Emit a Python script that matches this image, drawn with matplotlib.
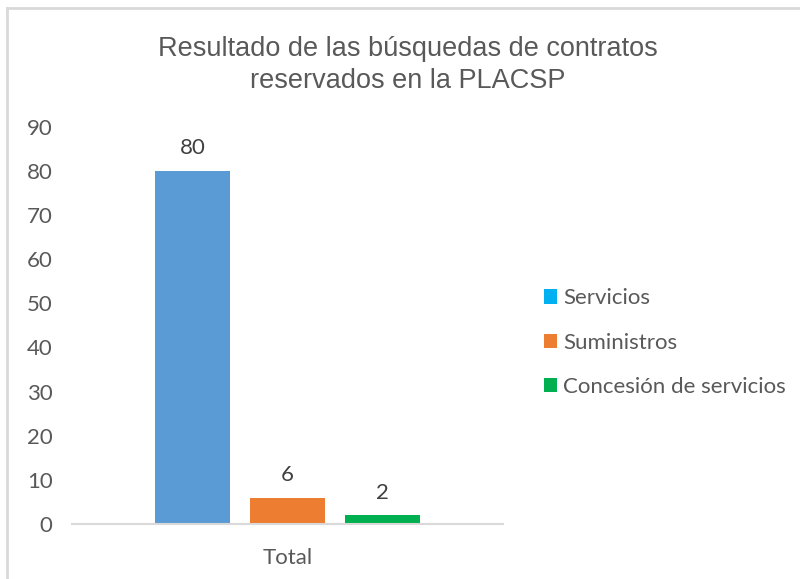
import matplotlib
matplotlib.use("Agg")
import matplotlib.pyplot as plt
from matplotlib.patches import Patch
from matplotlib.lines import Line2D

# Data
category = ["Total"]
series_names = ["Servicios", "Suministros", "Concesión de servicios"]
series_values = [80, 6, 2]
bar_colors = ["#5B9BD5", "#ED7D31", "#00B050"]
legend_colors = ["#00B0F0", "#ED7D31", "#00B050"]
yticks = list(range(0, 91, 10))

text_color = "#595959"
tick_font = ["Lato", "DejaVu Sans"]

fig = plt.figure(figsize=(8.0, 5.79), dpi=100)
ax = fig.add_axes([0.09, 0.095, 0.539, 0.686])

width = 0.174
offsets = [-0.2204, 0.0, 0.2204]
for name, val, col, off in zip(series_names, series_values, bar_colors, offsets):
    bars = ax.bar(0 + off, val, width=width, color=col, label=name)
    ax.bar_label(bars, labels=[str(val)], padding=9, fontsize=16,
                 color="#404040", family=tick_font)

ax.set_xlim(-0.5, 0.5)
ax.set_ylim(0, 90)
ax.set_yticks(yticks)
ax.set_xticks([0])
ax.set_xticklabels(category)
ax.tick_params(axis="both", length=0, labelsize=16, labelcolor=text_color)
ax.tick_params(axis="y", pad=14)
ax.tick_params(axis="x", pad=17)
for lab in ax.get_xticklabels() + ax.get_yticklabels():
    lab.set_family(tick_font)
for s in ["top", "right", "left"]:
    ax.spines[s].set_visible(False)
ax.spines["bottom"].set_color("#d9d9d9")
ax.spines["bottom"].set_linewidth(1.5)

fig.text(0.51, 0.888, "Resultado de las búsquedas de contratos\nreservados en la PLACSP",
         ha="center", va="center", fontsize=19.5, color=text_color,
         family="Liberation Sans", linespacing=1.28)

handles = [Patch(facecolor=c, edgecolor="none") for c in legend_colors]
fig.legend(handles, series_names, loc="center left", bbox_to_anchor=(0.655, 0.408),
           frameon=False, labelcolor=text_color,
           prop={"family": tick_font, "size": 16},
           handlelength=0.6, handleheight=0.6, handletextpad=0.25,
           labelspacing=1.1)

# chart frame (top and left edges visible)
fig.add_artist(Line2D([0.009, 1.0], [0.986, 0.986], transform=fig.transFigure,
                      color="#d9d9d9", lw=2))
fig.add_artist(Line2D([0.009, 0.009], [0.0, 0.986], transform=fig.transFigure,
                      color="#d9d9d9", lw=2))

fig.savefig("out.png", dpi=100, facecolor="white")
